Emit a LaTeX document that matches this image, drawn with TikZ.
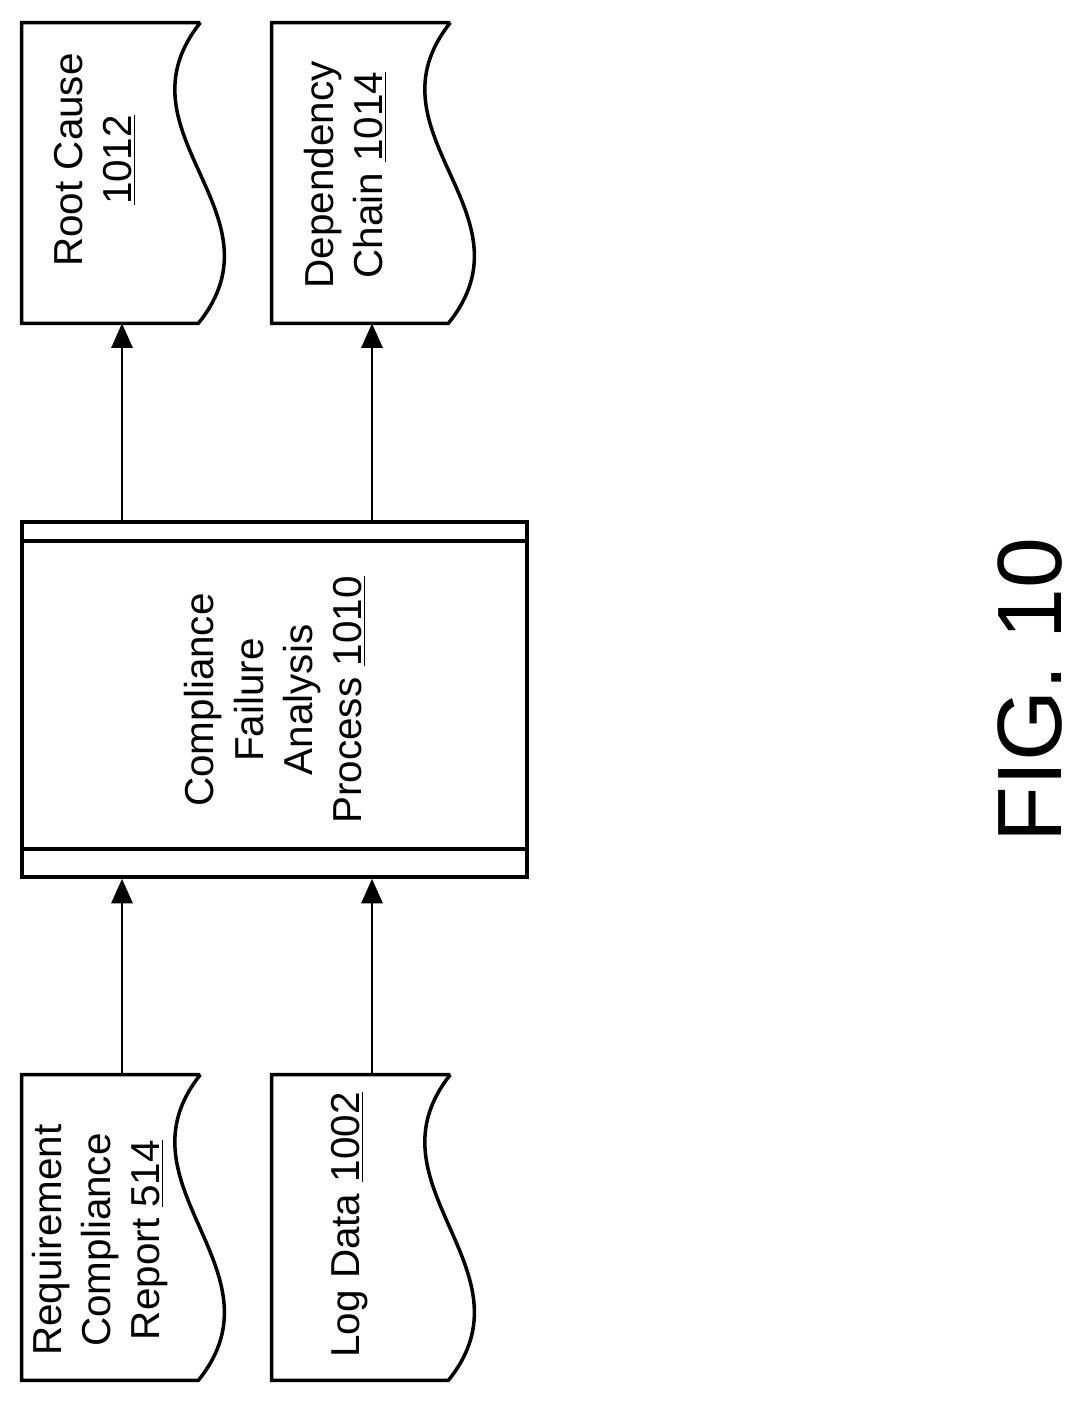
\documentclass[tikz,border=0pt]{standalone}
\usepackage{fontspec}
\setmainfont{Liberation Sans}
\usetikzlibrary{arrows.meta,calc}
\tikzset{
  box/.style={draw=none, minimum width=4cm, minimum height=6cm, inner sep=0pt},
  lbl/.style={rotate=90, align=center, font=\fontsize{23}{28}\selectfont},
  flow/.style={line width=1.6pt, -{Triangle[width=12pt,length=14pt]}},
}
\newcommand\docoutline[1]{%
  \draw[line width=2pt] ($(#1.north east)+(-0.44,0)$) -- (#1.north west) -- (#1.south west)
    -- ($(#1.south east)+(-0.48,0)$) .. controls ($(#1.south east)+(1.3,2.2)$) and ($(#1.north east)+(-2.2,-2.2)$) .. ($(#1.north east)+(-0.44,0)$);}
\begin{document}
\begin{tikzpicture}
  \useasboundingbox (0,0) rectangle (21.76,-28.04);
  % documents
  \node[box] (rc)  at (2.44,-3.46)  {};
  \node[box] (dc)  at (7.44,-3.46)  {};
  \node[box, minimum height=6.1cm] (req) at (2.44,-24.55) {};
  \node[box, minimum height=6.1cm] (log) at (7.44,-24.55) {};
  \docoutline{rc}
  \docoutline{dc}
  \docoutline{req}
  \docoutline{log}
  % process
  \node[draw, line width=2pt, minimum width=10.1cm, minimum height=7.1cm] (proc) at (5.49,-13.99) {};
  \draw[line width=2pt] ($(proc.north west)+(0,-0.42)$) -- ($(proc.north east)+(0,-0.42)$);
  \draw[line width=2pt] ($(proc.south west)+(0,0.6)$) -- ($(proc.south east)+(0,0.6)$);
  % texts
  \node[lbl] (rct)  at (1.9,-3.2)   {Root Cause\\\underline{1012}};
  \node[lbl] (dct)  at (6.9,-3.5)   {Dependency\\Chain \underline{1014}};
  \node[lbl] (proct) at (5.5,-14.0) {Compliance\\Failure\\Analysis\\Process \underline{1010}};
  \node[lbl] (reqt) at (2.0,-24.8)  {Requirement\\Compliance\\Report \underline{514}};
  \node[lbl] (logt) at (7.0,-24.5)  {Log Data \underline{1002}};
  \node[rotate=90, font=\fontsize{52}{56}\selectfont] (fig) at (20.6,-13.8) {FIG. 10};
  % flows
  \draw[flow] (req.north) -- (req.north |- proc.south);
  \draw[flow] (log.north) -- (log.north |- proc.south);
  \draw[flow] (rc.south |- proc.north) -- (rc.south);
  \draw[flow] (dc.south |- proc.north) -- (dc.south);
\end{tikzpicture}
\end{document}
